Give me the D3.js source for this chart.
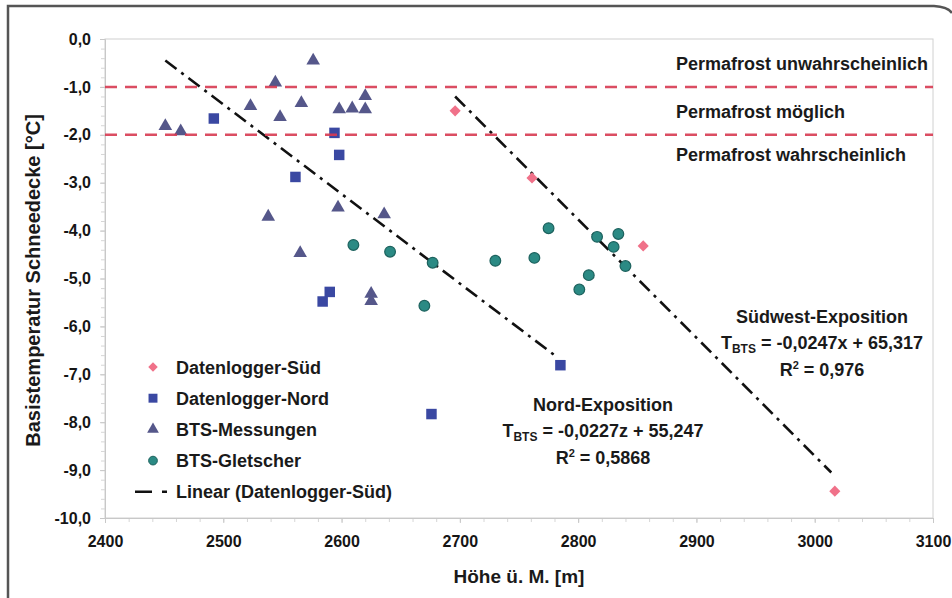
<!DOCTYPE html>
<meta charset="utf-8">
<head>
  <title>BTS vs. Höhe</title>
</head>

<style>
body {
  margin: 0;
  background: #fff;
  font-family: "Liberation Sans", Arial, Helvetica, sans-serif;
}

svg text {
  font-weight: bold;
  fill: #1a1a1a;
}

.axis path, .axis line {
  stroke: #c8c8c8;
}

.minor line {
  stroke: #d6d6d6;
}

.frame {
  fill: none;
  stroke: #555;
  stroke-width: 2.5;
}

.plot-border {
  fill: none;
  stroke: #d0d0d0;
}

.threshold {
  stroke: #d83a52;
  stroke-width: 2.5;
  stroke-dasharray: 12, 8;
}

.trend {
  stroke: #111;
  stroke-width: 2.6;
  stroke-dasharray: 14, 6, 3, 6;
  fill: none;
}

.label {
  font-size: 18px;
}
</style>

<body>
  <svg width="952" height="598"></svg>

  <script src="https://cdnjs.cloudflare.com/ajax/libs/d3/7.8.5/d3.min.js"></script>

  <script>
// Datenlogger-Süd
var suedX = [2696, 2761, 2855, 3017];
var suedY = [-1.50, -2.90, -4.32, -9.44];

// Datenlogger-Nord
var nordX = [2492, 2594, 2598, 2561, 2590, 2584, 2676, 2785];
var nordY = [-1.66, -1.96, -2.42, -2.88, -5.28, -5.48, -7.83, -6.81];

// BTS-Messungen
var btsX = [2451, 2464, 2523, 2544, 2548, 2566, 2576, 2598, 2609, 2620, 2620, 2538, 2597, 2636, 2565, 2625, 2625];
var btsY = [-1.82, -1.93, -1.40, -0.91, -1.63, -1.34, -0.45, -1.47, -1.45, -1.19, -1.47, -3.71, -3.52, -3.66, -4.47, -5.32, -5.47];

// BTS-Gletscher
var gletX = [2610, 2641, 2677, 2670, 2730, 2763, 2775, 2816, 2834, 2830, 2840, 2809, 2801];
var gletY = [-4.30, -4.44, -4.67, -5.57, -4.63, -4.57, -3.95, -4.13, -4.07, -4.34, -4.74, -4.93, -5.23];

// trend lines (end points as drawn)
var nordTrendX = [2451, 2780];
var nordTrendY = [-0.45, -6.60];
var suedTrendX = [2696, 3014];
var suedTrendY = [-1.20, -9.05];

// permafrost thresholds
var thresholds = [-1, -2];
var zoneLabels = ['Permafrost unwahrscheinlich', 'Permafrost möglich', 'Permafrost wahrscheinlich'];
var zoneLabelY = [-0.6, -1.6, -2.5];

var xTicks = [2400, 2500, 2600, 2700, 2800, 2900, 3000, 3100];
var yTicks = [0, -1, -2, -3, -4, -5, -6, -7, -8, -9, -10];

var legendNames = ['Datenlogger-Süd', 'Datenlogger-Nord', 'BTS-Messungen', 'BTS-Gletscher', 'Linear (Datenlogger-Süd)'];

var colors = {
  sued: '#f07189',
  nord: '#3a48a2',
  bts: '#55578a',
  glet: '#2b8a84'
};

var svg = d3.select('svg');

var x = d3.scaleLinear().domain([2400, 3100]).range([105, 933]);
var y = d3.scaleLinear().domain([-10, 0]).range([518, 39]);

var de = d3.formatLocale({decimal: ',', thousands: '.', grouping: [3], currency: ['', ' €'], minus: '-'});

// outer frame
svg.append('path')
  .attr('class', 'frame')
  .attr('d', 'M8,598 L8,6 L934,6 Q948,7 952,13');

// plot border
svg.append('rect')
  .attr('class', 'plot-border')
  .attr('x', x(2400))
  .attr('y', y(0))
  .attr('width', x(3100) - x(2400))
  .attr('height', y(-10) - y(0));

// minor ticks
svg.append('g')
  .attr('class', 'axis minor')
  .attr('transform', 'translate(0,' + y(-10) + ')')
  .call(d3.axisBottom(x).tickValues(d3.range(2400, 3101, 20)).tickSize(4).tickFormat(''))
  .select('.domain').remove();

svg.append('g')
  .attr('class', 'axis minor')
  .attr('transform', 'translate(' + x(2400) + ',0)')
  .call(d3.axisLeft(y).tickValues(d3.range(0, 51, 1).map(function(d) { return -d / 5; })).tickSize(4).tickFormat(''))
  .select('.domain').remove();

// axes
var xAxis = svg.append('g')
  .attr('class', 'axis')
  .attr('transform', 'translate(0,' + y(-10) + ')')
  .call(d3.axisBottom(x).tickValues(xTicks).tickSize(5).tickPadding(13).tickFormat(d3.format('d')));

var yAxis = svg.append('g')
  .attr('class', 'axis')
  .attr('transform', 'translate(' + x(2400) + ',0)')
  .call(d3.axisLeft(y).tickValues(yTicks).tickSize(5).tickPadding(9).tickFormat(de.format('.1f')));

[xAxis, yAxis].forEach(function(a) {
  a.attr('font-family', null).attr('font-size', null);
  a.selectAll('text')
    .style('font-family', '"Liberation Sans", Arial, sans-serif')
    .style('font-size', '16px')
    .style('font-weight', 'bold')
    .style('fill', '#151515');
});

// axis titles
svg.append('text')
  .attr('x', (x(2400) + x(3100)) / 2)
  .attr('y', 583)
  .attr('text-anchor', 'middle')
  .style('font-size', '19px')
  .text('Höhe ü. M. [m]');

svg.append('text')
  .attr('transform', 'translate(40,' + ((y(0) + y(-10)) / 2 + 2) + ') rotate(-90)')
  .attr('text-anchor', 'middle')
  .style('font-size', '20px')
  .text('Basistemperatur Schneedecke [°C]');

// trend lines
var line = d3.line()
  .x(function(d) { return x(d[0]); })
  .y(function(d) { return y(d[1]); });

svg.append('path')
  .attr('class', 'trend')
  .attr('d', line(d3.zip(nordTrendX, nordTrendY)));

svg.append('path')
  .attr('class', 'trend')
  .attr('d', line(d3.zip(suedTrendX, suedTrendY)));

// markers (diamond = rotated square)
var sym = {
  sued: d3.symbol().type(d3.symbolSquare).size(62),
  nord: d3.symbol().type(d3.symbolSquare).size(110),
  bts: d3.symbol().type(d3.symbolTriangle).size(80),
  glet: d3.symbol().type(d3.symbolCircle).size(90)
};

function place(key, px, py) {
  return 'translate(' + px + ',' + py + ')' + (key === 'sued' ? ' rotate(45)' : '');
}

function drawSeries(xs, ys, key) {
  svg.append('g')
    .selectAll('path')
    .data(d3.zip(xs, ys))
    .enter()
    .append('path')
    .attr('d', sym[key]())
    .attr('transform', function(d) { return place(key, x(d[0]), y(d[1])); })
    .attr('fill', colors[key])
    .attr('stroke', key === 'glet' ? '#1d625e' : 'none')
    .attr('stroke-width', 1.2);
}

drawSeries(btsX, btsY, 'bts');
drawSeries(nordX, nordY, 'nord');
drawSeries(gletX, gletY, 'glet');
drawSeries(suedX, suedY, 'sued');

// thresholds
svg.append('g')
  .selectAll('line')
  .data(thresholds)
  .enter()
  .append('line')
  .attr('class', 'threshold')
  .attr('x1', x(2400))
  .attr('x2', x(3100))
  .attr('y1', function(d) { return y(d); })
  .attr('y2', function(d) { return y(d); })
  .style('opacity', 0.9);

svg.append('g')
  .selectAll('text')
  .data(zoneLabels)
  .enter()
  .append('text')
  .attr('class', 'label')
  .attr('x', 676)
  .attr('y', function(d, i) { return y(zoneLabelY[i]) + 2; })
  .text(function(d) { return d; });

// regression notes
function note(cx, by, title, eq, r2) {
  var g = svg.append('g').attr('class', 'label').attr('text-anchor', 'middle');
  g.append('text').attr('x', cx).attr('y', by).text(title);
  var t = g.append('text').attr('x', cx).attr('y', by + 26);
  t.append('tspan').text('T');
  t.append('tspan').attr('dy', 4).style('font-size', '12px').text('BTS');
  t.append('tspan').attr('dy', -4).text(' = ' + eq);
  var r = g.append('text').attr('x', cx).attr('y', by + 53);
  r.append('tspan').text('R');
  r.append('tspan').attr('dy', -7).style('font-size', '11px').text('2');
  r.append('tspan').attr('dy', 7).text(' = ' + r2);
}

note(603, 411, 'Nord-Exposition', '-0,0227z + 55,247', '0,5868');
note(822, 323, 'Südwest-Exposition', '-0,0247x + 65,317', '0,976');

// legend
var legendKeys = ['sued', 'nord', 'bts', 'glet'];
var legend = svg.append('g');
var legendRows = d3.range(legendNames.length).map(function(i) { return 367 + i * 31.2; });

legend.selectAll('path.key')
  .data(legendKeys)
  .enter()
  .append('path')
  .attr('class', 'key')
  .attr('d', function(d) {
    var s = d === 'nord' ? 80 : (d === 'sued' ? 45 : 60);
    return d3.symbol().type(sym[d].type()).size(s)();
  })
  .attr('transform', function(d, i) { return place(d, 153, legendRows[i]); })
  .attr('fill', function(d) { return colors[d]; })
  .attr('stroke', function(d) { return d === 'glet' ? '#1d625e' : 'none'; });

legend.append('line')
  .attr('x1', 135)
  .attr('x2', 168)
  .attr('y1', legendRows[4])
  .attr('y2', legendRows[4])
  .attr('stroke', '#111')
  .attr('stroke-width', 2.6)
  .attr('stroke-dasharray', '17,10,5,50');

legend.selectAll('text')
  .data(legendNames)
  .enter()
  .append('text')
  .attr('class', 'label')
  .attr('x', 176)
  .attr('y', function(d, i) { return legendRows[i] + 6.5; })
  .text(function(d) { return d; });
  </script>
</body>
</html>
